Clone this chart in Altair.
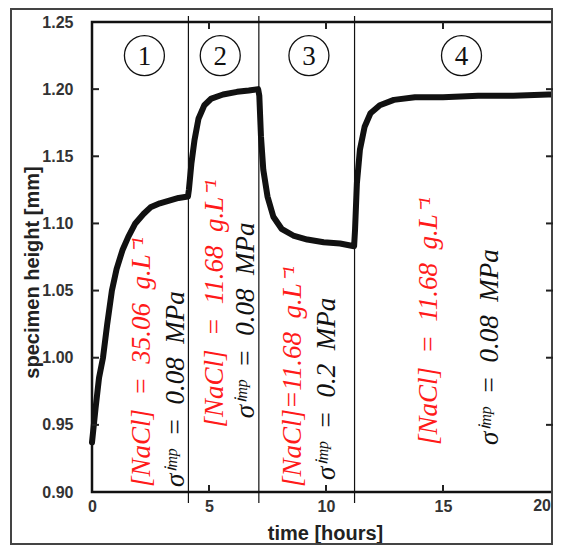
import altair as alt
import pandas as pd

# ---- data ----
time_h = [0.0, 0.15, 0.3, 0.47, 0.65, 0.85, 1.05, 1.3, 1.55, 1.85, 2.2, 2.5, 2.9, 3.3, 3.7, 4.1,
          4.14, 4.25, 4.38, 4.55, 4.8, 5.1, 5.6, 6.2, 6.7, 7.1,
          7.15, 7.22, 7.32, 7.5, 7.75, 8.1, 8.6, 9.2, 9.9, 10.6, 11.2,
          11.24, 11.32, 11.45, 11.65, 11.9, 12.3, 12.9, 13.8, 15.0, 16.5, 18.0, 19.5, 20.0]
height_mm = [0.937, 0.962, 0.985, 1.000, 1.025, 1.050, 1.066, 1.080, 1.090, 1.100, 1.107, 1.112, 1.115, 1.117, 1.119, 1.120,
             1.125, 1.145, 1.162, 1.178, 1.188, 1.193, 1.196, 1.198, 1.199, 1.200,
             1.195, 1.165, 1.140, 1.120, 1.105, 1.096, 1.091, 1.088, 1.086, 1.085, 1.083,
             1.095, 1.130, 1.155, 1.172, 1.182, 1.188, 1.192, 1.194, 1.194, 1.195, 1.195, 1.196, 1.196]

phase_limits = [4.12, 7.13, 11.22]
phase_names = ["1", "2", "3", "4"]
phase_center = [2.24, 5.48, 9.27, 15.79]
phase_level = [1.225, 1.225, 1.225, 1.225]

SP = "\u2002"  # en space, closer to the math spacing of the original
nacl_text = [f"[NaCl]{SP}={SP}35.06{SP}g.L⁻¹", f"[NaCl]{SP}={SP}11.68{SP}g.L⁻¹",
             f"[NaCl]=11.68{SP}g.L⁻¹", f"[NaCl]{SP}={SP}11.68{SP}g.L⁻¹"]
nacl_t = [2.12, 5.24, 8.57, 14.42]
nacl_h = [0.9037, 0.948, 0.9037, 0.935]

sigma_text = [f"σⁱᵐᵖ{SP}={SP}0.08{SP}MPa", f"σⁱᵐᵖ{SP}={SP}0.08{SP}MPa",
              f"σⁱᵐᵖ{SP}={SP}0.2{SP}MPa", f"σⁱᵐᵖ{SP}={SP}0.08{SP}MPa"]
sigma_t = [3.57, 6.56, 10.06, 16.99]
sigma_h = [0.9037, 0.955, 0.909, 0.935]

x_ticks = [0, 5, 10, 15, 20]
y_ticks = [0.90, 0.95, 1.00, 1.05, 1.10, 1.15, 1.20, 1.25]

W, H = 461, 470

curve = pd.DataFrame({"t": time_h, "h": height_mm})
limits = pd.DataFrame({"t": phase_limits})
phases = pd.DataFrame({"t": phase_center, "h": phase_level, "n": phase_names})
nacl = pd.DataFrame({"t": nacl_t, "h": nacl_h, "s": nacl_text})
sigma = pd.DataFrame({"t": sigma_t, "h": sigma_h, "s": sigma_text})
xt = pd.DataFrame({"t": x_ticks[1:-1]})
yt = pd.DataFrame({"h": y_ticks[1:-1]})
xlast = pd.DataFrame({"t": [x_ticks[-1]], "s": [str(x_ticks[-1])]})

xs = alt.Scale(domain=[0, 19.7], nice=False, zero=False)
ys = alt.Scale(domain=[0.90, 1.25], nice=False, zero=False)

lab_font = "Liberation Sans"

x_axis = alt.Axis(
    values=x_ticks, format="d", ticks=False, domain=False, grid=False,
    labelFont=lab_font, labelFontWeight="bold", labelFontSize=16, labelColor="#333", labelPadding=6,
    labelFlush=False, labelOverlap=False,
    title="time [hours]", titleFont=lab_font, titleFontSize=20, titleFontWeight="bold",
    titleColor="#222", titleX=233, titleY=41, titleBaseline="middle", titleAlign="center")
y_axis = alt.Axis(
    values=y_ticks, format=".2f", ticks=False, domain=False, grid=False,
    labelFont=lab_font, labelFontWeight="bold", labelFontSize=16, labelColor="#333", labelPadding=19,
    labelFlush=False, labelOverlap=False,
    title="specimen height [mm]", titleFont=lab_font, titleFontSize=20, titleFontWeight="bold",
    titleColor="#222", titleX=-50, titleY=250, titleAngle=270, titleBaseline="bottom",
    titleAlign="center")

X = alt.X("t:Q", scale=xs, axis=x_axis)
Y = alt.Y("h:Q", scale=ys, axis=y_axis)

line = alt.Chart(curve).mark_line(color="#111", strokeWidth=6, strokeJoin="round", strokeCap="round").encode(
    x=X, y=Y)

dividers = alt.Chart(limits).mark_rule(color="#111", strokeWidth=1.2).encode(
    x=X, y=alt.value(-6), y2=alt.value(H + 11))

circles = alt.Chart(phases).mark_point(shape="circle", size=1600, filled=False, color="#111",
                                       strokeWidth=1.3, opacity=1).encode(x=X, y=Y)
circle_txt = alt.Chart(phases).mark_text(font="Liberation Serif", fontSize=27, color="#111",
                                         baseline="middle", align="center", dy=1).encode(
    x=X, y=Y, text="n:N")

nacl_lbl = alt.Chart(nacl).mark_text(angle=270, align="left", baseline="middle", font="Liberation Serif",
                                     fontStyle="italic", fontSize=27, color="#ff1a1a").encode(
    x=X, y=Y, text="s:N")
sigma_lbl = alt.Chart(sigma).mark_text(angle=270, align="left", baseline="middle", font="Liberation Serif",
                                       fontStyle="italic", fontSize=27, color="#111").encode(
    x=X, y=Y, text="s:N")

last_lbl = alt.Chart(xlast).mark_text(align="right", baseline="top", dx=-9, font=lab_font,
                                      fontWeight="bold", fontSize=16, color="#333").encode(
    x=X, y=alt.value(H + 6), text="s:N")

tick_b = alt.Chart(xt).mark_rule(color="#222", strokeWidth=2).encode(
    x=X, y=alt.value(H), y2=alt.value(H - 7))
tick_t = alt.Chart(xt).mark_rule(color="#222", strokeWidth=2).encode(
    x=X, y=alt.value(0), y2=alt.value(7))
tick_l = alt.Chart(yt).mark_rule(color="#222", strokeWidth=2).encode(
    y=Y, x=alt.value(0), x2=alt.value(7))
tick_r = alt.Chart(yt).mark_rule(color="#222", strokeWidth=2).encode(
    y=Y, x=alt.value(W), x2=alt.value(W - 7))

frame = alt.Chart(pd.DataFrame({"k": [0]})).mark_rect(fillOpacity=0, stroke="#444", strokeWidth=2).encode(
    x=alt.value(-81), x2=alt.value(W - 1), y=alt.value(-13), y2=alt.value(522))

chart = alt.layer(
    line, frame, tick_b, tick_t, tick_l, tick_r, dividers, circles, circle_txt, nacl_lbl, sigma_lbl, last_lbl
).properties(
    width=W, height=H,
    autosize=alt.AutoSizeParams(type="none"),
    padding={"left": 84, "top": 14, "right": 0, "bottom": 54},
    background="white",
).configure_view(stroke="#111", strokeWidth=2.5)

chart.save("out.html", embed_options={"renderer": "svg", "actions": False})
